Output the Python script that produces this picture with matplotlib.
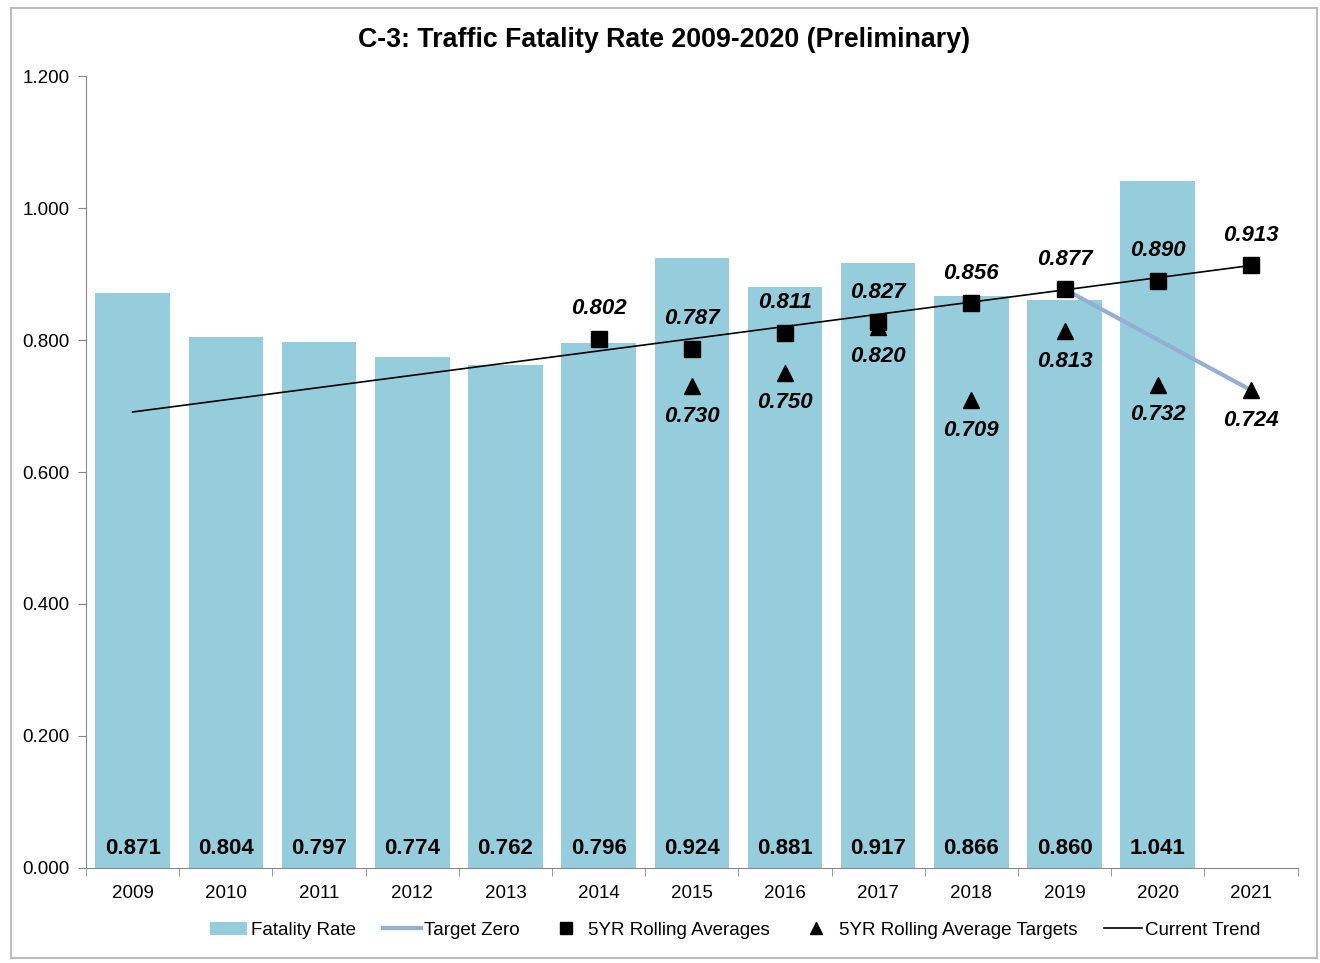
import matplotlib.pyplot as plt
from matplotlib.patches import Rectangle

plt.rcParams['font.family'] = ['Liberation Sans', 'DejaVu Sans']

years = ['2009', '2010', '2011', '2012', '2013', '2014', '2015', '2016',
         '2017', '2018', '2019', '2020', '2021']
rate = [0.871, 0.804, 0.797, 0.774, 0.762, 0.796, 0.924, 0.881, 0.917,
        0.866, 0.860, 1.041]
rolling_years = years[5:]
rolling = [0.802, 0.787, 0.811, 0.827, 0.856, 0.877, 0.890, 0.913]
target_years = years[6:]
targets = [0.730, 0.750, 0.820, 0.709, 0.813, 0.732, 0.724]
zero_years = ['2019', '2021']
zero_vals = [0.877, 0.724]
trend_years = ['2009', '2021']
trend_vals = [0.691, 0.913]

xpos = {y: i for i, y in enumerate(years)}

fig = plt.figure(figsize=(13.2, 9.63), dpi=100)
ax = fig.add_axes([0.0652, 0.0987, 0.9178, 0.8223])

bar_color = '#96CDDC'
ax.bar([xpos[y] for y in years[:len(rate)]], rate, width=0.8,
       color=bar_color, label='Fatality Rate', zorder=1)
ax.plot([xpos[y] for y in zero_years], zero_vals, color='#95AED3',
        lw=3, label='Target Zero', zorder=2)
ax.plot([xpos[y] for y in rolling_years], rolling, ls='none', marker='s',
        ms=11, color='black', label='5YR Rolling Averages', zorder=4)
ax.plot([xpos[y] for y in target_years], targets, ls='none', marker='^',
        ms=12, color='black', label='5YR Rolling Average Targets', zorder=4)
ax.plot([xpos[y] for y in trend_years], trend_vals, color='black', lw=1.2,
        label='Current Trend', zorder=3)

for i, v in enumerate(rate):
    ax.text(i, 0.013, f'{v:.3f}', ha='center', va='bottom', fontsize=16,
            fontweight='bold')

for y, v in zip(rolling_years, rolling):
    ax.annotate(f'{v:.3f}', (xpos[y], v), xytext=(0, 14), textcoords='offset points',
                ha='center', va='bottom', fontsize=16, fontweight='bold',
                style='italic')
for y, v in zip(target_years, targets):
    ax.annotate(f'{v:.3f}', (xpos[y], v), xytext=(0, -14), textcoords='offset points',
                ha='center', va='top', fontsize=16, fontweight='bold',
                style='italic')

ax.set_xlim(-0.5, len(years) - 0.5)
ax.set_ylim(0, 1.2)
ax.set_yticks([0, 0.2, 0.4, 0.6, 0.8, 1.0, 1.2])
ax.set_yticklabels([f'{t:.3f}' for t in ax.get_yticks()], fontsize=13.5)
ax.set_xticks(range(len(years)))
ax.set_xticklabels(years, fontsize=13.5)
ax.set_xticks([i - 0.5 for i in range(len(years) + 1)], minor=True)
ax.tick_params(axis='x', which='major', length=0, pad=12)
ax.tick_params(axis='x', which='minor', length=6, color='#888888')
ax.tick_params(axis='y', length=6, color='#888888', pad=6)
for s in ['top', 'right']:
    ax.spines[s].set_visible(False)
for s in ['left', 'bottom']:
    ax.spines[s].set_color('#888888')

fig.suptitle('C-3: Traffic Fatality Rate 2009-2020 (Preliminary)',
             fontsize=19.3, fontweight='bold', x=0.503, y=0.972)

handles, labels = ax.get_legend_handles_labels()
order = ['Fatality Rate', 'Target Zero', '5YR Rolling Averages',
         '5YR Rolling Average Targets', 'Current Trend']
hmap = dict(zip(labels, handles))
fig.legend([hmap[k] for k in order], order, loc='center',
           bbox_to_anchor=(0.557, 0.034), ncol=5, frameon=False,
           fontsize=13.5, handlelength=2.0, handletextpad=0.2, columnspacing=1.45,
           markerscale=0.75)

fig.patches.append(Rectangle((0.008, 0.005), 0.99, 0.987, transform=fig.transFigure,
                             fill=False, edgecolor='#BBBBBB', lw=1.5))

fig.savefig('out.png', dpi=100)
